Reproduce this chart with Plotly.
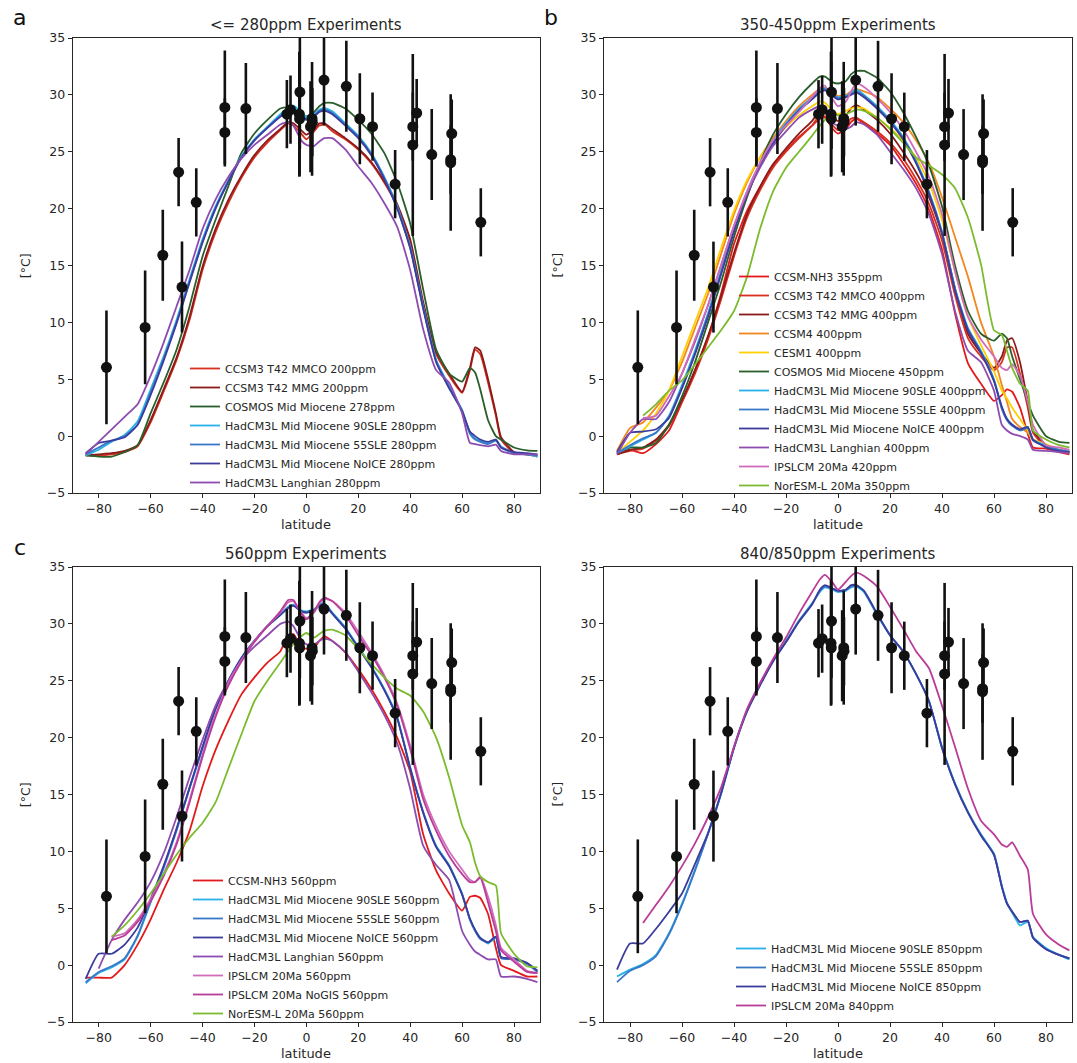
import plotly.graph_objects as go

W, H = 1077, 1063

# ---------------- data ----------------
LAT = [-85, -80, -75, -70, -65, -60, -55, -50, -45, -40, -35, -30, -25, -20, -15, -10,
       -7, -5, -2, 0, 3, 5, 7,
       10, 15, 20, 25, 30, 35, 40, 45, 50, 55, 60,
       63, 65, 67, 70, 73, 75, 80, 85, 89]

# proxy data (latitude, temperature, error)
PT_LAT = [-77.0, -62.1, -55.3, -49.2, -47.9, -42.4, -31.4, -31.4, -23.3, -7.5, -6.1, -2.5, -2.7,
          -2.6, 1.6, 2.2, 2.3, 6.8, 15.4, 20.6, 25.5, 34.2, 41.0, 41.0, 42.5, 48.3, 55.6, 55.6,
          56.0, 67.2]
PT_T = [6.05, 9.56, 15.9, 23.2, 13.1, 20.55, 28.9, 26.7, 28.8, 28.3, 28.7, 30.25, 28.3, 27.9,
        27.2, 27.9, 27.6, 31.3, 30.75, 27.9, 27.2, 22.15, 27.2, 25.6, 28.4, 24.75, 24.3, 24.05,
        26.6, 18.8]
PT_ERR = [5, 5, 4, 3, 4, 3, 5, 3, 4, 3, 3, 5, 5.5, 5, 4, 5, 3, 4, 4, 4, 3, 3, 3, 8, 3, 4, 3, 6,
          3, 3]

# panel a
A_MMCO = [-1.7, -1.7, -1.6, -1.4, -0.9, 1.2, 3.9, 6.7, 10.2, 14.6, 17.9, 20.5, 22.7, 24.5, 25.8, 26.9,
          27.5, 27.3, 26.6, 26.1, 26.8, 27.3, 27.4,
          26.8, 26.1, 25.2, 24.0, 22.3, 20.2, 17.0, 11.4, 7.2, 5.3, 3.8,
          5.8, 7.6, 7.2, 4.7, 1.8, -0.3, -1.5, -1.6, -1.8]
A_MMG = [-1.7, -1.6, -1.5, -1.3, -0.8, 1.4, 4.1, 6.9, 10.5, 14.9, 18.2, 20.8, 22.9, 24.7, 26.0, 27.0,
         27.6, 27.5, 26.9, 26.5, 27.0, 27.5, 27.5,
         27.0, 26.2, 25.3, 24.1, 22.4, 20.4, 17.3, 11.8, 7.4, 5.5, 3.9,
         6.0, 7.8, 7.5, 5.0, 2.0, -0.1, -1.4, -1.6, -1.7]
A_COSMOS = [-1.7, -1.8, -1.8, -1.4, -0.8, 2.0, 4.7, 7.6, 11.4, 15.8, 19.0, 22.0, 24.9, 26.6, 27.8, 28.8,
            28.9, 28.8, 28.3, 28.1, 28.5, 29.0, 29.3,
            29.3, 28.8, 27.8, 26.6, 24.9, 22.3, 18.7, 12.9, 7.6, 5.5, 4.8,
            6.0, 5.6, 4.1, 1.4, 0.0, -0.3, -1.0, -1.25, -1.3]
A_90SLE = [-1.7, -1.2, -0.5, 0.1, 1.3, 4.1, 7.0, 10.2, 13.8, 17.3, 20.2, 22.5, 24.6, 26.1, 27.2, 28.3,
           28.85, 29.05, 28.5, 28.05, 28.3, 28.7, 28.85,
           28.55, 27.5, 26.4, 24.9, 22.8, 20.2, 16.7, 11.4, 6.7, 4.4, 2.3,
           0.3, -0.2, -0.4, -0.6, -0.3, -0.9, -1.5, -1.6, -1.8]
A_55SLE = [-1.6, -1.0, -0.4, 0.0, 1.0, 3.8, 6.8, 10.0, 13.6, 17.1, 20.0, 22.4, 24.5, 26.0, 27.1, 28.1,
           28.6, 28.8, 28.3, 27.9, 28.2, 28.6, 28.7,
           28.4, 27.4, 26.3, 24.8, 22.7, 20.1, 16.6, 11.3, 6.6, 4.3, 2.2,
           0.2, -0.3, -0.5, -0.7, -0.4, -1.0, -1.5, -1.6, -1.7]
A_NOICE = [-1.5, -0.6, -0.4, -0.1, 1.0, 3.6, 6.6, 9.9, 13.5, 17.0, 20.0, 22.4, 24.5, 26.0, 27.1, 28.1,
           28.5, 28.6, 28.2, 27.8, 28.1, 28.5, 28.6,
           28.3, 27.3, 26.2, 24.7, 22.6, 20.0, 16.5, 11.2, 6.5, 4.2, 2.2,
           0.4, 0.0, -0.3, -0.5, -0.3, -1.0, -1.4, -1.5, -1.6]
A_LANGH = [-1.6, -0.5, 0.6, 1.7, 2.8, 5.3, 8.2, 11.4, 14.6, 18.2, 20.8, 22.8, 24.4, 25.6, 26.5, 27.4,
           27.6, 27.3, 26.0, 25.6, 25.5, 25.9, 26.2,
           26.2, 25.2, 23.7, 22.3, 20.5, 18.4, 14.6, 9.4, 5.8, 4.7, 2.0,
           -0.6, -0.7, -0.8, -0.9, -0.75, -1.3, -1.6, -1.6, -1.6]

# panel b
B_NH3 = [-1.4, -1.2, -1.5, -0.7, 0.5, 3.0, 5.8, 8.7, 12.5, 16.9, 19.8, 21.9, 23.8, 25.1, 26.3, 27.3,
         27.9, 28.0, 27.0, 26.6, 27.0, 27.6, 27.9,
         27.5, 26.6, 25.6, 24.0, 22.2, 19.9, 16.4, 10.8, 6.4, 4.6, 3.1,
         3.6, 4.1, 3.9, 2.5, 0.2, -1.0, -1.1, -1.4, -1.6]
B_MMCO = [-1.6, -1.3, -1.1, -0.4, 0.9, 3.0, 5.5, 8.5, 12.0, 15.8, 19.2, 21.6, 23.6, 25.0, 26.2, 27.3,
          28.2, 28.1, 27.3, 26.9, 27.4, 27.9, 28.0,
          27.6, 26.8, 25.8, 24.4, 22.6, 20.4, 17.2, 12.4, 8.6, 7.0, 5.8,
          6.5, 7.8, 7.8, 5.5, 2.5, 0.3, -1.0, -1.3, -1.5]
B_MMG = [-1.6, -1.2, -1.0, -0.3, 1.0, 3.2, 5.8, 8.8, 12.3, 16.1, 19.5, 21.9, 23.9, 25.3, 26.6, 27.7,
         28.6, 28.6, 28.0, 27.7, 28.2, 28.8, 29.1,
         28.7, 27.8, 26.6, 25.0, 23.2, 21.0, 17.8, 13.0, 9.0, 7.3, 6.0,
         7.0, 8.4, 8.6, 6.5, 3.0, 0.5, -0.8, -1.2, -1.4]
B_CCSM4 = [-1.3, 0.7, 1.2, 2.5, 4.0, 6.5, 9.5, 12.5, 16.0, 19.5, 22.3, 24.5, 26.2, 27.7, 29.0, 30.0,
           30.5, 30.6, 30.2, 29.9, 30.0, 30.3, 30.5,
           30.3, 29.8, 28.8, 27.6, 26.0, 24.0, 21.0, 17.5, 14.0, 10.0, 7.0,
           4.5, 3.0, 1.5, 0.8, 0.3, -0.3, -0.8, -1.3, -1.5]
B_CESM1 = [-1.5, -0.5, 0.5, 2.0, 4.0, 7.0, 10.0, 13.0, 16.5, 19.8, 22.5, 24.5, 26.0, 27.2, 28.2, 29.0,
           29.4, 29.3, 28.6, 28.3, 28.6, 28.8, 28.9,
           28.8, 28.0, 27.1, 26.0, 24.5, 22.3, 19.0, 14.5, 10.5, 8.0, 5.7,
           4.0, 3.3, 2.5, 1.5, 0.5, -0.3, -0.7, -1.2, -1.3]
B_COSMOS = [-1.5, -1.0, -1.0, -0.6, 1.0, 3.5, 6.5, 10.0, 13.5, 17.5, 21.0, 24.0, 26.5, 28.3, 29.8, 31.0,
            31.6, 31.6, 31.1, 31.0, 31.2, 31.8, 32.1,
            32.1, 31.5, 30.3, 28.5, 26.3, 23.8, 20.2, 15.0, 11.0, 9.0, 8.4,
            9.0, 8.6, 7.0, 5.0, 3.0, 1.8, 0.0, -0.5, -0.6]
B_90SLE = [-1.5, -0.9, -0.3, 0.3, 1.8, 4.5, 7.5, 10.8, 14.5, 18.3, 21.5, 24.0, 26.0, 27.5, 28.8, 29.8,
           30.4, 30.6, 30.0, 29.8, 29.9, 30.2, 30.5,
           30.0, 29.0, 27.8, 26.3, 24.2, 21.5, 18.0, 13.0, 9.5, 7.5, 5.0,
           2.5, 1.5, 1.0, 0.5, 0.8, -0.3, -0.8, -1.2, -1.3]
B_55SLE = [-1.5, -0.8, -0.2, 0.3, 1.7, 4.3, 7.3, 10.6, 14.3, 18.1, 21.3, 23.8, 25.8, 27.4, 28.7, 29.7,
           30.3, 30.5, 30.0, 29.7, 29.8, 30.1, 30.3,
           29.9, 28.9, 27.7, 26.2, 24.1, 21.4, 17.9, 12.9, 9.4, 7.4, 4.9,
           2.4, 1.4, 0.9, 0.5, 0.7, -0.4, -0.9, -1.2, -1.4]
B_NOICE = [-1.4, 0.3, 0.4, 0.6, 1.6, 4.2, 7.2, 10.5, 14.2, 18.0, 21.2, 23.7, 25.7, 27.3, 28.6, 29.6,
           30.2, 30.4, 29.9, 29.6, 29.8, 30.0, 30.2,
           29.8, 28.8, 27.6, 26.1, 24.0, 21.3, 17.8, 12.8, 9.3, 7.3, 4.8,
           2.6, 1.5, 1.0, 0.6, 0.8, -0.3, -1.0, -1.3, -1.4]
B_LANGH = [-1.6, 0.3, 1.5, 1.5, 3.0, 5.5, 8.3, 11.5, 15.0, 18.5, 21.3, 23.6, 25.5, 26.8, 28.0, 28.7,
           29.0, 28.6, 27.5, 27.3, 27.0, 27.2, 27.6,
           27.4, 26.5, 25.0, 23.5, 21.8, 19.5, 16.0, 11.0, 7.5, 6.5, 4.0,
           1.0, 0.5, 0.2, 0.0, -0.3, -1.2, -1.3, -1.4, -1.5]
B_IPSL = [None, None, 1.6, 1.8, 3.5, 5.5, 8.5, 11.5, 15.0, 18.5, 21.5, 24.0, 26.0, 27.3, 28.5, 29.8,
          30.6, 30.8, 29.6, 29.0, 29.4, 30.3, 31.0,
          30.7, 29.7, 28.5, 27.0, 25.0, 22.8, 19.5, 14.5, 10.5, 8.5, 7.0,
          6.0, 5.8, 6.3, 5.3, 3.0, 1.0, -0.8, -1.0, -1.2]
B_NORESM = [None, None, 1.8, 2.8, 4.0, 4.9, 6.3, 7.8, 9.3, 11.0, 14.0, 18.2, 21.5, 23.6, 25.0, 26.4,
            27.3, 27.8, 28.3, 28.2, 28.3, 28.5, 28.7,
            28.6, 28.0, 27.0, 25.8, 24.5, 23.8, 23.0, 21.8, 19.2, 15.1, 9.3,
            8.9, 7.5, 6.0, 4.6, 4.0, 0.5, -0.3, -0.8, -1.0]

# panel c
C_NH3 = [-1.1, -1.1, -1.1, 0.0, 1.8, 4.0, 6.6, 9.0, 11.8, 15.7, 18.9, 21.5, 23.8, 25.3, 26.6, 27.6,
         29.0, 29.1, 28.0, 27.8, 27.9, 28.5, 28.9,
         28.5, 27.5, 26.0, 24.3, 22.3, 20.0, 17.0, 11.5, 8.3, 6.3, 4.8,
         6.0, 6.1, 5.9, 4.5, 1.5, 0.0, -0.5, -1.0, -1.0]
C_90SLE = [-1.6, -0.7, -0.2, 0.5, 2.5, 5.5, 8.5, 11.8, 15.5, 19.0, 22.5, 25.0, 27.0, 28.5, 29.8, 30.8,
           31.5, 31.7, 31.2, 31.1, 31.3, 31.7, 31.8,
           31.0, 29.7, 28.0, 26.3, 24.3, 21.8, 17.4, 13.5, 10.5, 8.8, 6.3,
           4.0, 3.1, 2.4, 1.9, 2.4, 0.7, 0.6, 0.1, -0.5]
C_55SLE = [-1.5, -0.6, -0.1, 0.6, 2.6, 5.6, 8.6, 11.9, 15.6, 19.1, 22.5, 25.0, 27.0, 28.5, 29.8, 30.8,
           31.4, 31.6, 31.1, 31.0, 31.2, 31.6, 31.7,
           30.9, 29.6, 27.9, 26.2, 24.2, 21.7, 17.3, 13.4, 10.4, 8.7, 6.2,
           4.0, 3.0, 2.3, 2.0, 2.5, 0.6, 0.5, 0.1, -0.6]
C_NOICE = [-1.2, 1.0, 1.0, 1.8, 3.3, 5.8, 8.7, 12.0, 15.6, 19.2, 22.5, 25.0, 27.0, 28.5, 29.8, 30.8,
           31.4, 31.6, 31.1, 31.0, 31.2, 31.6, 31.7,
           30.9, 29.6, 27.9, 26.2, 24.2, 21.7, 17.3, 13.4, 10.4, 8.7, 6.2,
           4.1, 3.1, 2.4, 2.0, 2.5, 0.7, 0.6, 0.2, -0.5]
C_LANGH = [None, -0.3, 2.2, 4.0, 5.5, 7.3, 9.8, 13.0, 16.5, 19.8, 22.8, 25.0, 26.8, 28.0, 29.0, 30.0,
           30.2, 29.8, 28.6, 28.2, 28.2, 28.5, 28.7,
           28.5, 27.5, 25.8, 24.0, 22.0, 19.5, 15.5, 10.5, 8.8, 7.5, 3.0,
           1.8, 1.2, 0.9, 0.5, 0.5, -1.0, -1.0, -1.2, -1.5]
C_IPSL = [None, None, 2.5, 2.8, 4.0, 5.8, 8.0, 10.8, 14.5, 18.5, 22.0, 24.8, 26.8, 28.5, 29.8, 31.0,
          31.9, 32.0, 31.0, 30.5, 31.0, 31.8, 32.2,
          32.0, 31.0, 29.3, 27.5, 25.5, 23.0, 19.3, 15.0, 12.2, 10.0, 8.4,
          7.5, 7.3, 7.8, 6.0, 3.5, 1.5, 0.5, -0.5, -0.7]
C_NOGIS = [None, None, 2.2, 2.6, 3.8, 5.6, 7.8, 10.6, 14.3, 18.3, 21.8, 24.6, 26.7, 28.4, 29.8, 31.1,
           32.1, 32.1, 30.9, 30.4, 31.1, 31.9, 32.3,
           32.0, 30.8, 29.0, 27.3, 25.3, 22.8, 19.0, 14.6, 11.8, 9.6, 8.0,
           7.3, 7.3, 7.7, 5.5, 3.0, 1.3, 0.3, -0.6, -0.7]
C_NORESM = [None, None, 2.5, 3.5, 4.8, 6.3, 8.0, 9.7, 11.2, 12.5, 14.3, 17.3, 20.3, 23.2, 25.0, 26.6,
            27.6, 28.2, 28.9, 29.2, 28.8, 29.1, 29.4,
            29.5, 29.0, 27.8, 26.5, 25.3, 24.3, 23.7, 22.3, 20.0, 16.5, 12.3,
            10.8, 9.0, 7.8, 7.3, 7.0, 2.8, 1.0, -0.1, -0.2]

# panel d
D_90SLE = [-1.0, -0.4, 0.1, 0.9, 2.8, 5.4, 8.4, 11.6, 15.1, 19.2, 22.4, 24.7, 26.8, 28.5, 30.3, 31.8,
           32.8, 33.2, 33.0, 32.8, 32.9, 33.2, 33.3,
           32.8, 30.8, 29.0, 27.6, 25.6, 23.2, 19.2, 16.0, 13.5, 11.5, 9.8,
           7.0, 5.5, 4.6, 3.5, 3.8, 2.5, 1.5, 0.9, 0.5]
D_55SLE = [-1.5, -0.5, 0.0, 0.8, 2.7, 5.3, 8.3, 11.5, 15.0, 19.1, 22.3, 24.6, 26.7, 28.4, 30.2, 31.7,
           32.9, 33.3, 33.1, 32.9, 33.0, 33.3, 33.4,
           32.9, 30.9, 29.0, 27.6, 25.6, 23.2, 19.1, 15.9, 13.4, 11.4, 9.7,
           6.9, 5.4, 4.7, 3.8, 3.9, 2.4, 1.4, 0.9, 0.6]
D_NOICE = [-0.4, 1.9, 1.9, 3.2, 4.7, 6.3, 8.9, 11.6, 15.1, 19.1, 22.3, 24.6, 26.7, 28.4, 30.2, 31.7,
           33.0, 33.4, 33.1, 32.9, 33.0, 33.4, 33.4,
           32.9, 30.9, 29.0, 27.6, 25.6, 23.2, 19.1, 15.9, 13.4, 11.4, 9.7,
           6.9, 5.4, 4.7, 3.8, 3.9, 2.4, 1.4, 0.9, 0.6]
D_IPSL = [None, None, 3.7, 5.3, 6.9, 8.7, 10.7, 13.0, 15.6, 19.2, 22.5, 24.8, 26.9, 28.8, 30.9, 32.8,
          33.9, 34.3, 33.6, 33.0, 33.7, 34.2, 34.5,
          34.2, 33.3, 31.5, 29.6, 27.6, 26.1, 22.8, 19.2, 15.5, 12.7, 11.5,
          10.6, 10.4, 10.8, 9.6, 8.4, 4.5, 2.7, 1.8, 1.3]

XTICKS = [-80, -60, -40, -20, 0, 20, 40, 60, 80]
YTICKS = [-5, 0, 5, 10, 15, 20, 25, 30, 35]

C_RED = "#e31a1c"
C_RED2 = "#d7301f"
C_DRED = "#8b1a1a"
C_DGRN = "#2a5e2a"
C_LBLU = "#29b1ea"
C_MBLU = "#3a78c6"
C_DBLU = "#3c3c9c"
C_PURP = "#8e4cb0"
C_ORNG = "#f3861f"
C_GOLD = "#ffcf00"
C_PINK = "#d06cba"
C_MAG = "#b83c98"
C_LGRN = "#7cbb2e"

PANELS = [
    dict(title="&lt;= 280ppm Experiments", letter="a", series=[
        ("CCSM3 T42 MMCO 200ppm", A_MMCO, C_RED2),
        ("CCSM3 T42 MMG 200ppm", A_MMG, C_DRED),
        ("COSMOS Mid Miocene 278ppm", A_COSMOS, C_DGRN),
        ("HadCM3L Mid Miocene 90SLE 280ppm", A_90SLE, C_LBLU),
        ("HadCM3L Mid Miocene 55SLE 280ppm", A_55SLE, C_MBLU),
        ("HadCM3L Mid Miocene NoICE 280ppm", A_NOICE, C_DBLU),
        ("HadCM3L Langhian 280ppm", A_LANGH, C_PURP)],
        leg=(185, 354)),
    dict(title="350-450ppm Experiments", letter="b", series=[
        ("CCSM-NH3 355ppm", B_NH3, C_RED),
        ("CCSM3 T42 MMCO 400ppm", B_MMCO, C_RED2),
        ("CCSM3 T42 MMG 400ppm", B_MMG, C_DRED),
        ("CCSM4 400ppm", B_CCSM4, C_ORNG),
        ("CESM1 400ppm", B_CESM1, C_GOLD),
        ("COSMOS Mid Miocene 450ppm", B_COSMOS, C_DGRN),
        ("HadCM3L Mid Miocene 90SLE 400ppm", B_90SLE, C_LBLU),
        ("HadCM3L Mid Miocene 55SLE 400ppm", B_55SLE, C_MBLU),
        ("HadCM3L Mid Miocene NoICE 400ppm", B_NOICE, C_DBLU),
        ("HadCM3L Langhian 400ppm", B_LANGH, C_PURP),
        ("IPSLCM 20Ma 420ppm", B_IPSL, C_PINK),
        ("NorESM-L 20Ma 350ppm", B_NORESM, C_LGRN)],
        leg=(734, 262)),
    dict(title="560ppm Experiments", letter="c", series=[
        ("CCSM-NH3 560ppm", C_NH3, C_RED),
        ("HadCM3L Mid Miocene 90SLE 560ppm", C_90SLE, C_LBLU),
        ("HadCM3L Mid Miocene 55SLE 560ppm", C_55SLE, C_MBLU),
        ("HadCM3L Mid Miocene NoICE 560ppm", C_NOICE, C_DBLU),
        ("HadCM3L Langhian 560ppm", C_LANGH, C_PURP),
        ("IPSLCM 20Ma 560ppm", C_IPSL, C_PINK),
        ("IPSLCM 20Ma NoGIS 560ppm", C_NOGIS, C_MAG),
        ("NorESM-L 20Ma 560ppm", C_NORESM, C_LGRN)],
        leg=(188, 866)),
    dict(title="840/850ppm Experiments", letter="", series=[
        ("HadCM3L Mid Miocene 90SLE 850ppm", D_90SLE, C_LBLU),
        ("HadCM3L Mid Miocene 55SLE 850ppm", D_55SLE, C_MBLU),
        ("HadCM3L Mid Miocene NoICE 850ppm", D_NOICE, C_DBLU),
        ("IPSLCM 20Ma 840ppm", D_IPSL, C_MAG)],
        leg=(731, 934)),
]

# ---------------- layout geometry (pixels) ----------------
XDOM = [(72.7, 540.0), (604.0, 1072.0)]
YDOM = [(38.0, 493.0), (567.0, 1022.0)]
FONT = "DejaVu Sans"
TXT = "#262626"

fig = go.Figure()
annotations = []
layout = dict(width=W, height=H, margin=dict(l=0, r=0, t=0, b=0, autoexpand=False),
              plot_bgcolor="white", paper_bgcolor="white",
              font=dict(family=FONT, color=TXT, size=12.5), showlegend=True)

for i, p in enumerate(PANELS):
    col, row = i % 2, i // 2
    n = i + 1
    xa = "x" if n == 1 else f"x{n}"
    ya = "y" if n == 1 else f"y{n}"
    lg = "legend" if n == 1 else f"legend{n}"
    x0, x1 = XDOM[col]
    y0, y1 = YDOM[row]
    common = dict(showline=True, linecolor=TXT, linewidth=1, mirror=True, ticks="outside",
                  ticklen=4, tickwidth=1, tickcolor=TXT, showgrid=False, zeroline=False,
                  tickfont=dict(family=FONT, size=12.5, color=TXT), automargin=False)
    layout["xaxis" if n == 1 else f"xaxis{n}"] = dict(
        domain=[x0 / W, x1 / W], range=[-90, 90], tickvals=XTICKS, anchor=ya, **common)
    layout["yaxis" if n == 1 else f"yaxis{n}"] = dict(
        domain=[1 - y1 / H, 1 - y0 / H], range=[-5, 35], tickvals=YTICKS, anchor=xa, **common)
    lx, ly = p["leg"]
    layout[lg] = dict(x=lx / W, y=1 - ly / H, xanchor="left", yanchor="top",
                      bgcolor="rgba(0,0,0,0)", borderwidth=0, itemwidth=30,
                      font=dict(family=FONT, size=11, color=TXT), tracegroupgap=0)

    for name, vals, color in p["series"]:
        fig.add_trace(go.Scatter(x=LAT, y=vals, mode="lines", name=name, xaxis=xa, yaxis=ya,
                                 legend=lg, line=dict(color=color, width=1.8, shape="spline",
                                                      smoothing=0.5)))
    fig.add_trace(go.Scatter(x=PT_LAT, y=PT_T, mode="markers", xaxis=xa, yaxis=ya,
                             showlegend=False, hoverinfo="skip",
                             marker=dict(size=11, color="#111111"),
                             error_y=dict(type="data", array=PT_ERR, visible=True,
                                          thickness=2.6, width=0, color="#111111")))

    cx = (x0 + x1) / 2
    annotations.append(dict(text=p["title"], x=cx / W, y=1 - (y0 - 13) / H, xref="paper",
                            yref="paper", showarrow=False, xanchor="center", yanchor="middle",
                            font=dict(family=FONT, size=15, color=TXT)))
    annotations.append(dict(text="latitude", x=cx / W, y=1 - (y1 + 31) / H, xref="paper",
                            yref="paper", showarrow=False, xanchor="center", yanchor="middle",
                            font=dict(family=FONT, size=13, color=TXT)))
    annotations.append(dict(text="[°C]", x=(x0 - 47) / W, y=1 - ((y0 + y1) / 2) / H,
                            xref="paper", yref="paper", showarrow=False, textangle=-90,
                            xanchor="center", yanchor="middle",
                            font=dict(family=FONT, size=12.5, color=TXT)))
    if p["letter"]:
        annotations.append(dict(text=p["letter"], x=(x0 - 53) / W, y=1 - (y0 - 20) / H,
                                xref="paper", yref="paper", showarrow=False,
                                xanchor="center", yanchor="middle",
                                font=dict(family=FONT, size=22, color="#111111")))

layout["annotations"] = annotations
fig.update_layout(**layout)
fig.write_html("out.html", config={"displayModeBar": False},
               post_script="document.body.style.margin='0';")
